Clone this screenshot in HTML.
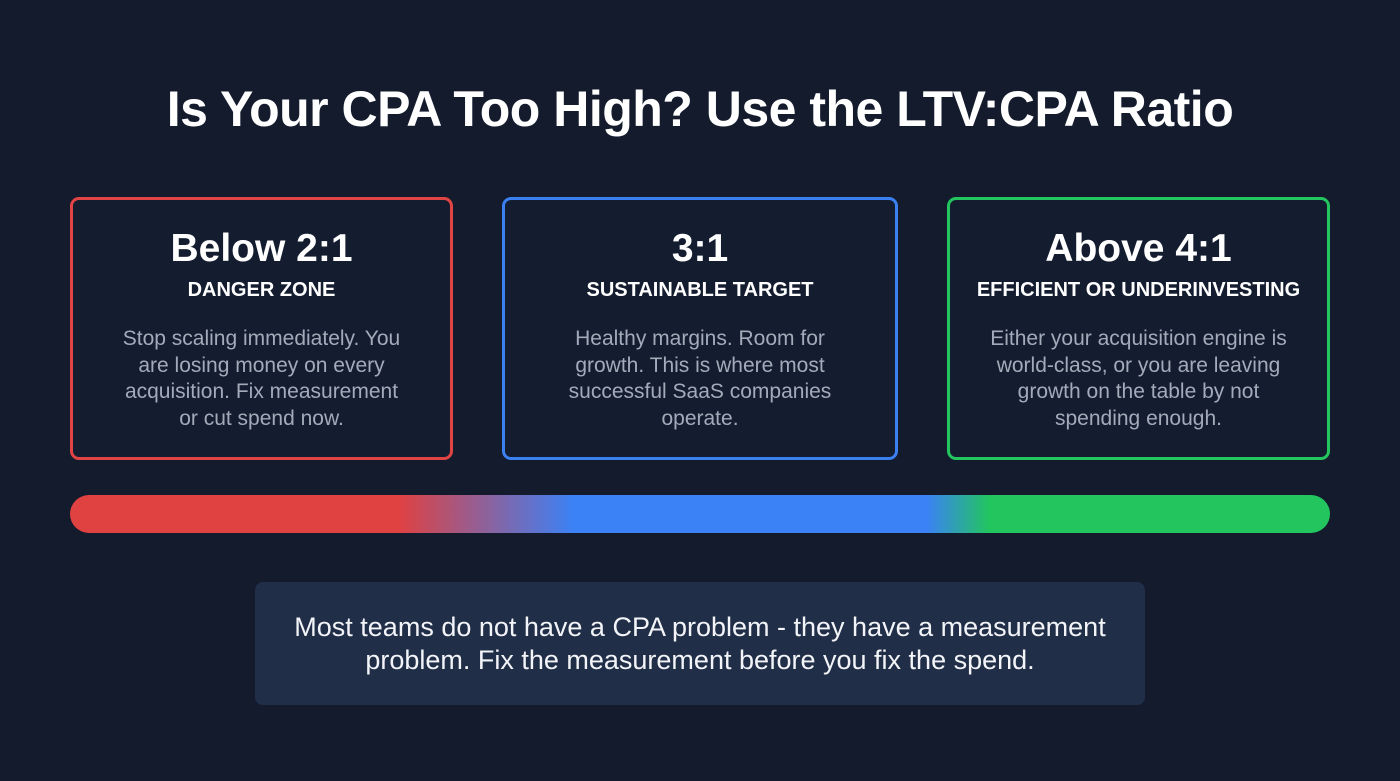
<!DOCTYPE html>
<html><head><meta charset="utf-8"><style>
html,body{margin:0;padding:0}
body{width:1400px;height:781px;background:#131b2d;font-family:"Liberation Sans",sans-serif;position:relative;overflow:hidden;color:#fff}
h1{position:absolute;top:80px;left:0;width:1400px;text-align:center;margin:0;font-size:50px;font-weight:bold;letter-spacing:-0.5px}
.card{position:absolute;top:197px;border:3px solid;border-radius:9px;box-sizing:border-box;height:263px;text-align:center;background:#141c2f}
.card .t{position:absolute;top:27px;left:0;right:0;font-size:39px;font-weight:bold}
.card .s{position:absolute;top:79px;left:0;right:0;font-size:20px;font-weight:bold}
.card .b{position:absolute;top:126px;left:36px;right:36px;font-size:21px;line-height:26.5px;color:#a3abba}
.bar{position:absolute;left:70px;top:495px;width:1260px;height:38px;border-radius:19px;background:linear-gradient(90deg,#e04141 0%,#e04141 26%,#3b82f6 40%,#3b82f6 68%,#22c55e 73%,#22c55e 100%)}
.note{position:absolute;left:255px;top:582px;width:890px;height:123px;background:#212e48;border-radius:8px;text-align:center;font-size:27px;line-height:33px;box-sizing:border-box;padding-top:29px;color:#f2f4f8}
</style></head><body>
<h1>Is Your CPA Too High? Use the LTV:CPA Ratio</h1>
<div class="card" style="left:70px;width:383px;border-color:#e04444"><div class="t">Below 2:1</div><div class="s">DANGER ZONE</div><div class="b" style="left:42px;right:42px">Stop scaling immediately. You are losing money on every acquisition. Fix measurement or cut spend now.</div></div>
<div class="card" style="left:502px;width:396px;border-color:#3b80f0"><div class="t">3:1</div><div class="s">SUSTAINABLE TARGET</div><div class="b" style="left:50px;right:50px">Healthy margins. Room for growth. This is where most successful SaaS companies operate.</div></div>
<div class="card" style="left:947px;width:383px;border-color:#22c55e"><div class="t">Above 4:1</div><div class="s">EFFICIENT OR UNDERINVESTING</div><div class="b" style="left:28px;right:28px">Either your acquisition engine is world-class, or you are leaving growth on the table by not spending enough.</div></div>
<div class="bar"></div>
<div class="note">Most teams do not have a CPA problem - they have a measurement<br>problem. Fix the measurement before you fix the spend.</div>
</body></html>
